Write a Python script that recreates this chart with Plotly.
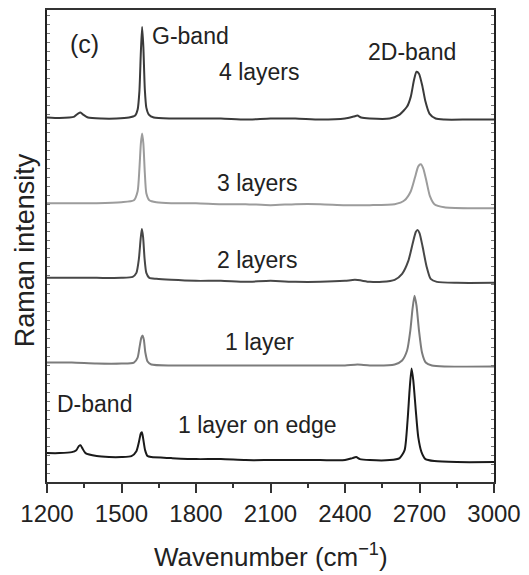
import plotly.graph_objects as go

# Raman spectra (stacked intensity, a.u.)
wn_4L = [1200,1250,1290,1310,1325,1335,1345,1365,1420,1480,1530,1555,1565,1572,1578,1583,1588,1594,1600,1610,
         1630,1700,1800,1900,2000,2100,2200,2300,2400,2435,2450,2465,2500,2580,2620,2650,2665,2678,2688,2698,
         2712,2724,2740,2765,2800,2900,3000]
int_4L = [366,365.5,366,367,370,371,369,366,365,365,366,368,374,392,432,457,437,394,376,369,
          366,365,365,365,364,365,365,364,365,367,368,366,365,365,369,377,387,404,412,410,
          397,382,370,365,364,364,364]

wn_3L = [1200,1300,1400,1500,1550,1565,1572,1578,1583,1588,1594,1600,1612,1640,1700,1800,1900,2000,2100,2200,
         2300,2400,2500,2600,2640,2665,2682,2695,2705,2715,2728,2742,2760,2800,2900,3000]
int_3L = [280,280,280,281,283,292,314,340,350,340,310,290,283,281,280,280,279,279,278,279,
          279,278,278,279,283,292,306,317,319,315,302,287,279,276,275,275]

wn_2L = [1200,1300,1400,1500,1545,1560,1570,1577,1582,1587,1593,1600,1612,1640,1700,1800,1900,2000,2100,2200,
         2300,2400,2440,2500,2550,2600,2630,2655,2672,2685,2692,2700,2712,2728,2745,2770,2850,3000]
int_2L = [205,205,205,205,206,210,224,244,254,246,224,210,205,204,203,202,202,201,202,201,
          201,202,203,201,201,203,209,222,239,251,253,250,237,217,204,201,200,200]

wn_1L = [1200,1300,1400,1500,1550,1565,1573,1580,1585,1590,1596,1605,1620,1700,1800,1900,2000,2100,2200,2300,
         2400,2450,2500,2600,2630,2650,2663,2672,2680,2688,2698,2710,2725,2750,2800,3000]
int_1L = [120,120,119,119,120,125,136,145,147,143,130,121,118,117,117,117,117,117,117,117,
          117,118,117,118,122,132,152,174,187,177,152,130,120,117,116,116]

wn_edge = [1200,1250,1300,1318,1328,1335,1342,1355,1400,1450,1500,1540,1560,1570,1578,1582,1587,1595,1605,1620,
           1700,1800,1900,2000,2100,2200,2300,2400,2430,2445,2460,2500,2580,2620,2640,2652,2660,2668,2675,2685,
           2695,2708,2724,2760,2850,3000]
int_edge = [29,29,30,32,36,37,34,29,26,25,25,26,31,40,49,50,44,32,26,25,
            24,23,23,22,22,22,22,22,24,25,23,22,22,24,32,62,92,114,102,72,
            45,30,23,21,20,20]

x_ticks = [1200, 1500, 1800, 2100, 2400, 2700, 3000]

series = [
    ("4 layers", wn_4L, int_4L, "#3a3a3a"),
    ("3 layers", wn_3L, int_3L, "#9c9c9c"),
    ("2 layers", wn_2L, int_2L, "#474747"),
    ("1 layer", wn_1L, int_1L, "#7c7c7c"),
    ("1 layer on edge", wn_edge, int_edge, "#1a1a1a"),
]

fig = go.Figure()
for name, xs, ys, col in series:
    fig.add_trace(go.Scatter(x=xs, y=ys, mode="lines", name=name,
                             line=dict(color=col, width=2, shape="spline", smoothing=0.6),
                             showlegend=False, hoverinfo="skip"))

txt = "#222222"
font = "Liberation Sans, Arial, sans-serif"
labels = [
    ("(c)", 1352, 440, 25),
    ("G-band", 1776, 448, 23),
    ("4 layers", 2056, 412, 23),
    ("2D-band", 2668, 432, 23),
    ("3 layers", 2048, 300, 23),
    ("2 layers", 2048, 223, 23),
    ("1 layer", 2056, 141, 23),
    ("D-band", 1392, 78, 23),
    ("1 layer on edge", 2048, 57, 23),
]
for t, x, y, s in labels:
    fig.add_annotation(x=x, y=y, text=t, showarrow=False, xref="x", yref="y",
                       font=dict(size=s, color=txt, family=font))

fig.add_annotation(text="Wavenumber (cm<sup>\u22121</sup>)", xref="paper", yref="paper",
                   x=0.5, y=-0.155, showarrow=False, yanchor="middle",
                   font=dict(size=26, color=txt, family=font))
fig.add_annotation(text="Raman intensity", xref="paper", yref="paper",
                   x=-0.05, y=0.49, xanchor="center", yanchor="middle", showarrow=False, textangle=-90,
                   font=dict(size=27, color=txt, family=font))

fig.update_xaxes(range=[1200, 3000], tickvals=x_ticks, ticktext=[str(v) for v in x_ticks],
                 ticks="outside", ticklen=9, tickwidth=1.5, tickcolor="#333",
                 minor=dict(dtick=150, tick0=1200, ticks="outside", ticklen=4, tickwidth=1.5, tickcolor="#333"),
                 showline=True, linewidth=2, linecolor="#333", mirror=True,
                 showgrid=False, zeroline=False,
                 tickfont=dict(size=24, color=txt, family=font))
fig.update_yaxes(range=[0, 474], showticklabels=False, ticks="inside", ticklen=3, tickwidth=1,
                 tickcolor="#777", dtick=9, tick0=0,
                 showline=True, linewidth=2, linecolor="#222", mirror="ticks",
                 showgrid=False, zeroline=False)

fig.update_layout(width=529, height=575, margin=dict(l=47, r=33, t=8, b=93),
                  paper_bgcolor="white", plot_bgcolor="white")

fig.write_html("out.html")
